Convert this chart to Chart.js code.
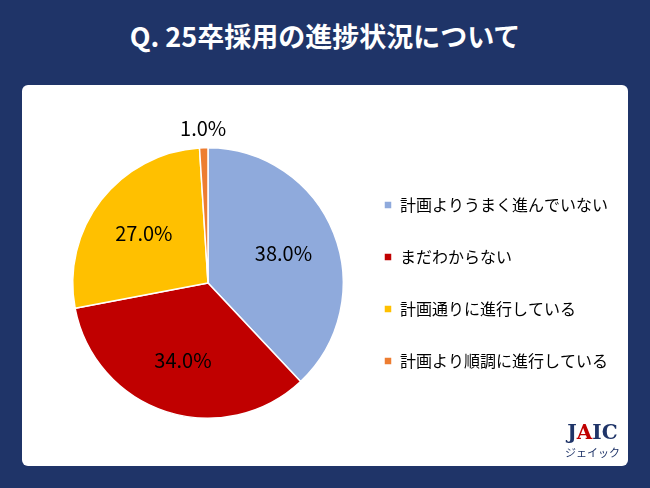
<!DOCTYPE html>
<html><head><meta charset="utf-8">
<script src="https://cdn.jsdelivr.net/npm/chart.js@4"></script>
<style>
body{margin:0;width:650px;height:488px;background:#1f3468;font-family:"Noto Sans CJK JP","Noto Sans",sans-serif;position:relative;overflow:hidden}
#title{position:absolute;top:16px;left:0;width:650px;text-align:center;color:#fff;font-size:27px;font-weight:bold}
#panel{position:absolute;left:22px;top:85px;width:606px;height:381px;background:#fff;border-radius:6px}
#wrap{position:absolute;left:0;top:0;width:606px;height:381px}
#logo{position:absolute;right:30px;bottom:28px;text-align:center;color:#1f3468;font-family:"DejaVu Serif",serif}
</style></head><body>
<div id="title">Q. 25卒採用の進捗状況について</div>
<div id="panel"><div id="wrap"><canvas id="c"></canvas></div></div>
<div id="logo"><div style="font-size:20px;font-weight:bold;color:#1f3468">J<span style="color:#c00000">A</span>IC</div><div style="font-size:11px;font-family:'Noto Sans CJK JP'">ジェイック</div></div>
<script>
const categories=["計画よりうまく進んでいない","まだわからない","計画通りに進行している","計画より順調に進行している"];
const values=[38.0,34.0,27.0,1.0];
const colors=["#8faadc","#c00000","#ffc000","#ed7d31"];
const labelPlugin={id:'lbl',afterDatasetsDraw(ch){
 const ctx=ch.ctx;const meta=ch.getDatasetMeta(0);
 ctx.save();ctx.font='20px "Noto Sans CJK JP"';ctx.fillStyle='#000';ctx.textAlign='center';ctx.textBaseline='middle';
 meta.data.forEach((a,i)=>{const mid=(a.startAngle+a.endAngle)/2;
  const r=i===3?a.outerRadius+19:a.outerRadius*0.6;
  ctx.fillText(values[i].toFixed(1)+'%',a.x+Math.cos(mid)*r,a.y+Math.sin(mid)*r);});
 ctx.restore();}};
new Chart(document.getElementById('c'),{type:'pie',
 data:{labels:categories,datasets:[{data:values,backgroundColor:colors,borderColor:'#fff',borderWidth:1.5}]},
 options:{responsive:true,maintainAspectRatio:false,animation:false,
  layout:{padding:{left:46,top:62,bottom:47,right:10}},
  plugins:{tooltip:{enabled:false},
   legend:{position:'right',labels:{boxWidth:8,boxHeight:8,padding:36,font:{size:16,family:'"Noto Sans CJK JP"'},color:'#000'}}}},
 plugins:[labelPlugin]});
</script></body></html>
